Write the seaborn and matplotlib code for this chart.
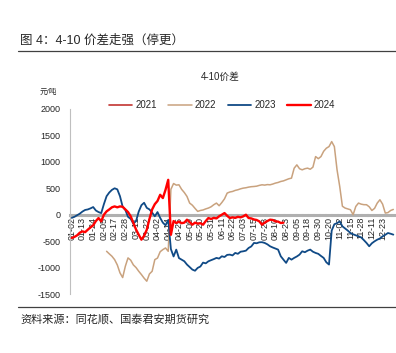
import numpy as np
import pandas as pd
import matplotlib
matplotlib.use("Agg")
import matplotlib.pyplot as plt
import seaborn as sns
from matplotlib.lines import Line2D

# ---------------- data ----------------
date_labels = ["01-02", "01-13", "01-24", "02-05", "02-17", "02-28", "03-11", "03-22",
               "04-02", "04-14", "04-25", "05-09", "05-20", "05-31", "06-11", "06-22",
               "07-03", "07-15", "07-28", "08-10", "08-23", "09-05", "09-18", "09-30",
               "10-20", "11-02", "11-15", "11-28", "12-11", "12-23"]

years = ["2021", "2022", "2023", "2024"]

# values every 2 trading days (元/吨)
v2021 = []
start2022 = 26
v2022 = [-692, -740, -786, -850, -950, -1100, -1189, -975, -817, -860, -950, -1000,
         -1070, -1132, -1200, -1258, -1120, -1070, -850, -820, -700, -660, -629, -692,
         480, 590, 560, 566, 480, 420, 346, 220, 180, 120, 63, 80, 90, 110, 126, 150,
         189, 220, 170, 230, 300, 409, 430, 440, 460, 472, 490, 503, 510, 522, 530, 534,
         540, 555, 566, 560, 570, 566, 580, 598, 610, 629, 640, 660, 680, 692, 880, 943,
         870, 849, 870, 881, 860, 900, 1100, 1060, 1100, 1200, 1258, 1289, 1383, 1289,
         850, 534, 160, 126, 110, 94, 0, 157, 220, 200, 190, 189, 150, 80, 120, 220,
         283, 200, 31, 40, 80, 100]
start2023 = 0
v2023 = [-60, -40, -10, 20, 60, 90, 100, 120, 145, 80, 50, 30, 200, 350, 420, 470,
         500, 480, 350, 150, 90, -40, -80, -170, -120, 60, 180, 226, 130, 100, 40, -30,
         50, -60, -150, -200, -100, -650, -790, -660, -820, -850, -880, -943, -990, -1038,
         -1060, -1006, -980, -906, -920, -881, -860, -840, -817, -830, -786, -800, -760,
         -755, -770, -723, -740, -700, -692, -680, -629, -600, -534, -540, -522, -520,
         -534, -560, -597, -620, -640, -660, -786, -850, -912, -817, -850, -817, -790,
         -755, -692, -710, -680, -660, -700, -723, -740, -780, -817, -900, -943, -300,
         -180, -160, -126, -220, -260, -300, -346, -370, -390, -409, -430, -480, -534,
         -597, -540, -503, -472, -450, -409, -380, -346, -360, -377]
start2024 = 0
v2024 = [-440, -420, -390, -340, -315, -330, -283, -240, -200, -120, -63, -126, 0, 63,
         100, 140, 157, 140, 157, 150, 100, 50, -31, -157, -280, -380, -472, -400, -283,
         -80, 100, 200, 260, 377, 315, 472, 660, -380, -120, -157, -130, -160, -150, -94,
         -140, -189, -150, -170, -160, -189, -120, -63, -80, -60, -70, -30, 0, 31, -20,
         -63, -50, -60, -40, -50, -31, 0, -63, -70, -90, -100, -126, -189, -150, -120,
         -94, -100, -126, -130, -157, -150]

colors = {"2021": "#c23531", "2022": "#c9a27e", "2023": "#104a86", "2024": "#ff0000"}
widths = {"2021": 1.2, "2022": 1.1, "2023": 1.3, "2024": 1.7}

series = {"2022": (start2022, v2022), "2023": (start2023, v2023), "2024": (start2024, v2024)}

# ---------------- style ----------------
sns.set_style("white")
plt.rcParams["font.family"] = ["Liberation Sans", "Noto Sans CJK SC"]
plt.rcParams["axes.unicode_minus"] = False

W, H = 396, 353
fig = plt.figure(figsize=(W / 100, H / 100), dpi=100)
ax = fig.add_axes([70 / W, 1 - 294 / H, 1 - 70 / W, (294 - 109) / H])

for yr in ["2022", "2023", "2024"]:
    st, vals = series[yr]
    df = pd.DataFrame({"idx": np.arange(st, st + 2 * len(vals), 2), "val": vals})
    sns.lineplot(data=df, x="idx", y="val", ax=ax, color=colors[yr],
                 linewidth=widths[yr], legend=False, zorder=3)

for s in ["top", "right"]:
    ax.spines[s].set_visible(False)
ax.spines["left"].set_color("#bfbfbf")
ax.spines["left"].set_linewidth(0.8)
ax.spines["bottom"].set_position(("data", 0))
ax.spines["bottom"].set_color("#b0b0b0")
ax.spines["bottom"].set_linewidth(2.2)
ax.spines["bottom"].set_linestyle((0, (1.6, 0.35)))
ax.spines["bottom"].set_zorder(2)

ax.set_xlim(-1.3, 242)
ax.set_ylim(-1500, 2000)
ax.set_yticks(np.arange(-1500, 2001, 500))
ax.set_xticks(np.arange(0, 8 * len(date_labels), 8))
ax.set_xticklabels(date_labels)
ax.set_xlabel("")
ax.set_ylabel("")

ax.tick_params(axis="x", length=0, pad=1.5, labelsize=6.5, labelrotation=90)
ax.tick_params(axis="y", direction="in", length=3, color="#bfbfbf", labelsize=6.5, pad=7)
for lbl in ax.get_xticklabels():
    lbl.set_rotation(90)
    lbl.set_ha("center")
    lbl.set_va("top")
ax.patch.set_alpha(0)

handles = [Line2D([], [], color=colors[y], linewidth=widths[y]) for y in years]
fig.legend(handles, years, loc="center", bbox_to_anchor=(222 / W, 1 - 105 / H),
           ncol=4, frameon=False, fontsize=7, handlelength=2.4, handletextpad=0.3,
           columnspacing=1.2)

fig.text(20 / W, 1 - 41 / H, "图 4：4-10 价差走强（停更）", fontsize=9, va="center", ha="left")
fig.add_artist(Line2D([18 / W, 1], [1 - 51 / H, 1 - 51 / H], color="#404040", lw=0.9,
                      transform=fig.transFigure))
fig.text(220 / W, 1 - 77 / H, "4-10价差", fontsize=7, ha="center", va="center")
fig.text(48 / W, 1 - 92 / H, "元/吨", fontsize=5.5, ha="center", va="center")
fig.add_artist(Line2D([18 / W, 1], [1 - 307 / H, 1 - 307 / H], color="#404040", lw=0.9,
                      transform=fig.transFigure))
fig.text(20 / W, 1 - 319 / H, "资料来源：同花顺、国泰君安期货研究", fontsize=8,
         va="center", ha="left")

fig.savefig("out.png", dpi=100)
